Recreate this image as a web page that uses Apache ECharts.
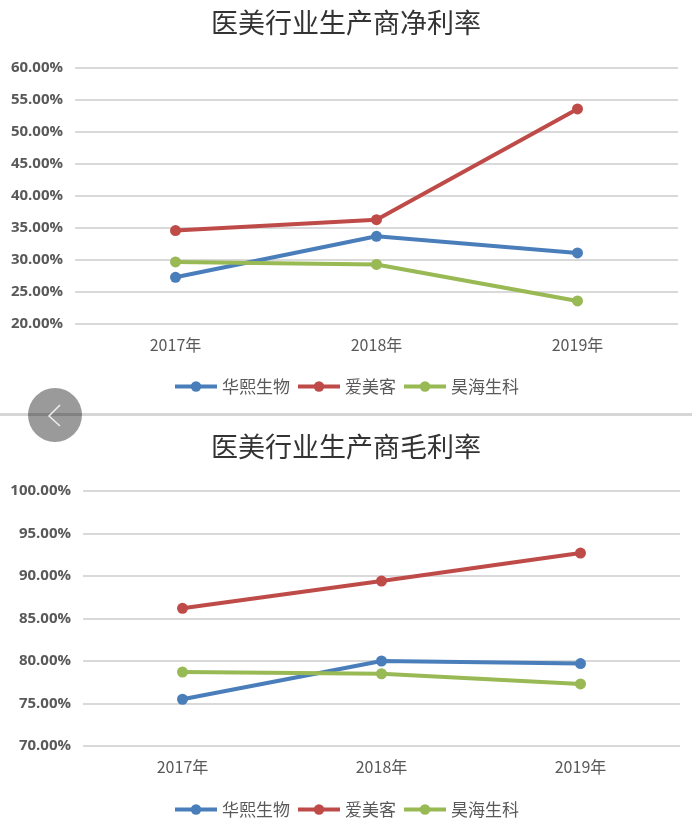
<!DOCTYPE html>
<html>
<head>
<meta charset="utf-8">
<script src="https://cdn.jsdelivr.net/npm/echarts@6/dist/echarts.min.js"></script>
<style>
html,body{margin:0;padding:0;background:#fff;}
#main{width:692px;height:834px;}
</style>
</head>
<body>
<div id="main"></div>
<script>
var years = ['2017年', '2018年', '2019年'];
var names = ['华熙生物', '爱美客', '昊海生科'];
var colors = ['#4a7ebb', '#be4b48', '#98b954'];
// 净利率 (%)
var netHuaxi = [27.3, 33.7, 31.1];
var netAimeike = [34.6, 36.3, 53.6];
var netHaohai = [29.7, 29.3, 23.6];
// 毛利率 (%)
var grossHuaxi = [75.5, 80.0, 79.7];
var grossAimeike = [86.2, 89.4, 92.7];
var grossHaohai = [78.7, 78.5, 77.3];

var myChart = echarts.init(document.getElementById('main'));
var fontCN = '"Noto Sans CJK SC", sans-serif';

var yAxisOpt = function(grid, min, max) {
	return {
		type: 'value', gridIndex: grid, min: min, max: max, interval: 5,
		axisLine: {show: false}, axisTick: {show: false},
		axisLabel: {
			margin: 12, color: '#595959', fontSize: 15, fontWeight: 'bold',
			fontFamily: '"Open Sans", sans-serif',
			formatter: function(v) { return v.toFixed(2) + '%'; }
		},
		splitLine: {lineStyle: {color: '#d9d9d9', width: 2}}
	};
};
var xAxisOpt = function(grid) {
	return {
		type: 'category', gridIndex: grid, data: years,
		axisLine: {show: false}, axisTick: {show: false},
		axisLabel: {margin: 13, color: '#595959', fontSize: 16, fontFamily: fontCN}
	};
};
var lineSeries = function(name, idx, grid, data) {
	return {
		name: name, type: 'line', xAxisIndex: grid, yAxisIndex: grid, data: data,
		symbol: 'circle', symbolSize: 11,
		lineStyle: {width: 4, color: colors[idx]},
		itemStyle: {color: colors[idx]}
	};
};
var legendOpt = function(top) {
	return {
		top: top, left: 'center', data: names, itemWidth: 42, itemHeight: 13, itemGap: 6,
		lineStyle: {width: 4},
		textStyle: {color: '#595959', fontSize: 17, fontFamily: fontCN}
	};
};

var option = {
	animation: false,
	title: [
		{text: '医美行业生产商净利率', left: 'center', top: 4,
			textStyle: {fontSize: 27, fontWeight: 'normal', color: '#333333', fontFamily: fontCN}},
		{text: '医美行业生产商毛利率', left: 'center', top: 428,
			textStyle: {fontSize: 27, fontWeight: 'normal', color: '#333333', fontFamily: fontCN}}
	],
	legend: [legendOpt(373), legendOpt(796)],
	grid: [
		{left: 75, right: 14, top: 68, height: 256},
		{left: 83, right: 12, top: 491, height: 255}
	],
	xAxis: [xAxisOpt(0), xAxisOpt(1)],
	yAxis: [yAxisOpt(0, 20, 60), yAxisOpt(1, 70, 100)],
	series: [
		lineSeries(names[0], 0, 0, netHuaxi),
		lineSeries(names[1], 1, 0, netAimeike),
		lineSeries(names[2], 2, 0, netHaohai),
		lineSeries(names[0], 0, 1, grossHuaxi),
		lineSeries(names[1], 1, 1, grossAimeike),
		lineSeries(names[2], 2, 1, grossHaohai)
	],
	graphic: [
		{type: 'circle', shape: {cx: 55, cy: 415, r: 27}, style: {fill: '#9a9a9a'}},
		{type: 'rect', shape: {x: 0, y: 413, width: 692, height: 3}, style: {fill: 'rgba(0,0,0,0.16)'}},
		{type: 'polyline', shape: {points: [[60, 405], [49, 416], [60, 426]]},
			style: {stroke: '#eeeeee', lineWidth: 1.5, fill: null}}
	]
};
myChart.setOption(option);
</script>
</body>
</html>
